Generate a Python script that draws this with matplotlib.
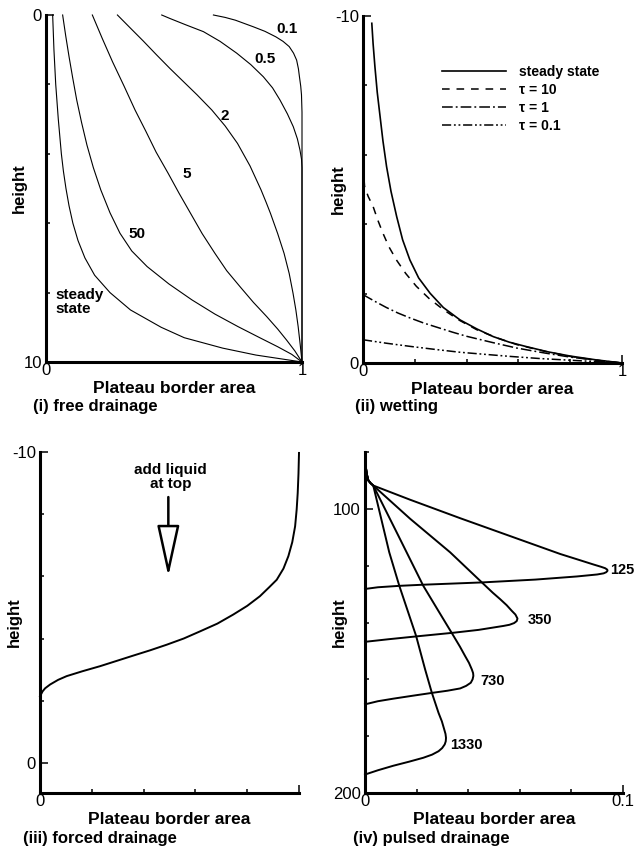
import matplotlib
matplotlib.use('Agg')
import matplotlib.pyplot as plt

plt.rcParams['font.family'] = ['Liberation Sans', 'DejaVu Sans']

# (i) free drainage: Plateau border area vs height, labelled by time
fd_steady_x = [0.026, 0.031, 0.038, 0.048, 0.060, 0.068, 0.078, 0.090, 0.105, 0.125, 0.152, 0.19,
               0.25, 0.33, 0.45, 0.54, 0.69, 0.82, 1.0]
fd_steady_h = [0.0, 1.0, 2.0, 3.0, 4.0, 4.5, 5.0, 5.5, 6.0, 6.5, 7.0, 7.5,
               8.0, 8.5, 9.0, 9.3, 9.6, 9.8, 10.0]
fd_50_x = [0.065, 0.077, 0.09, 0.104, 0.12, 0.139, 0.16, 0.185, 0.214, 0.25, 0.289, 0.335, 0.395,
           0.48, 0.57, 0.66, 0.75, 0.835, 0.905, 0.96, 1.0]
fd_50_h = [0.0, 0.6, 1.2, 1.8, 2.45, 3.1, 3.75, 4.4, 5.04, 5.7, 6.29, 6.8, 7.25,
           7.75, 8.21, 8.62, 8.98, 9.3, 9.56, 9.78, 10.0]
fd_5_x = [0.181, 0.22, 0.26, 0.305, 0.348, 0.39, 0.43, 0.477, 0.52, 0.565, 0.61, 0.66, 0.706,
          0.758, 0.81, 0.862, 0.905, 0.94, 0.972, 1.0]
fd_5_h = [0.0, 0.68, 1.35, 2.05, 2.74, 3.35, 3.95, 4.56, 5.14, 5.72, 6.3, 6.87, 7.37,
          7.83, 8.28, 8.69, 9.05, 9.37, 9.68, 10.0]
fd_2_x = [0.279, 0.33, 0.38, 0.432, 0.484, 0.53, 0.59, 0.648, 0.70, 0.748, 0.797, 0.84, 0.86,
          0.877, 0.905, 0.93, 0.95, 0.965, 0.976, 0.985, 0.993, 1.0]
fd_2_h = [0.0, 0.38, 0.75, 1.15, 1.54, 1.87, 2.3, 2.74, 3.2, 3.7, 4.35, 5.04, 5.4,
          5.72, 6.3, 6.87, 7.45, 8.02, 8.5, 8.98, 9.5, 10.0]
fd_05_x = [0.452, 0.484, 0.545, 0.615, 0.68, 0.745, 0.80, 0.849, 0.885, 0.914, 0.943, 0.966, 0.982,
           0.992, 0.998, 1.0, 1.0]
fd_05_h = [0.0, 0.1, 0.28, 0.48, 0.76, 1.1, 1.43, 1.78, 2.1, 2.45, 2.85, 3.22, 3.57,
           3.89, 4.15, 4.4, 10.0]
fd_01_x = [0.654, 0.70, 0.74, 0.81, 0.855, 0.898, 0.926, 0.95, 0.967, 0.979, 0.986, 0.99, 0.995,
           0.998, 1.0, 1.0]
fd_01_h = [0.0, 0.07, 0.15, 0.34, 0.47, 0.63, 0.76, 0.91, 1.1, 1.3, 1.55, 1.78, 2.05,
           2.3, 2.8, 10.0]
fd_labels = ['0.1', '0.5', '2', '5', '50']
fd_label_x = [0.943, 0.854, 0.699, 0.548, 0.357]
fd_label_h = [0.41, 1.28, 2.91, 4.58, 6.31]

# (ii) wetting
wt_steady_x = [0.034, 0.039, 0.046, 0.055, 0.066, 0.077, 0.091, 0.108, 0.13, 0.153, 0.181, 0.215,
               0.259, 0.31, 0.375, 0.44, 0.503, 0.565, 0.632, 0.715, 0.8, 0.9, 1.0]
wt_steady_h = [-9.79, -9.2, -8.54, -7.8, -7.1, -6.4, -5.66, -4.95, -4.22, -3.55, -2.97, -2.45,
               -2.01, -1.6, -1.24, -0.98, -0.76, -0.6, -0.47, -0.32, -0.2, -0.09, 0.0]
wt_10_x = [0.0, 0.003, 0.006, 0.02, 0.039, 0.057, 0.077, 0.1, 0.129, 0.165, 0.206, 0.255, 0.31,
           0.37, 0.439, 0.515, 0.594, 0.7, 0.8, 0.9, 1.0]
wt_10_h = [-5.7, -5.4, -5.09, -4.8, -4.51, -4.12, -3.74, -3.35, -2.97, -2.58, -2.21, -1.86, -1.54,
           -1.24, -0.96, -0.73, -0.53, -0.34, -0.19, -0.08, 0.0]
wt_1_x = [0.0, 0.045, 0.09, 0.135, 0.181, 0.235, 0.29, 0.345, 0.4, 0.5, 0.594, 0.7, 0.8, 0.9, 1.0]
wt_1_h = [-1.97, -1.78, -1.6, -1.44, -1.3, -1.15, -1.02, -0.89, -0.77, -0.59, -0.43, -0.29, -0.17,
          -0.08, 0.0]
wt_01_x = [0.0, 0.09, 0.181, 0.28, 0.374, 0.47, 0.568, 0.68, 0.8, 0.9, 1.0]
wt_01_h = [-0.67, -0.57, -0.48, -0.39, -0.31, -0.25, -0.19, -0.13, -0.08, -0.04, 0.0]

# (iii) forced drainage
fr_x = [0.0, 0.01, 0.02, 0.039, 0.07, 0.103, 0.165, 0.232, 0.296, 0.36, 0.425, 0.489, 0.555, 0.618,
        0.685, 0.746, 0.8, 0.849, 0.885, 0.914, 0.94, 0.959, 0.974, 0.985, 0.991, 0.995, 0.998, 1.0]
fr_h = [-2.14, -2.3, -2.4, -2.52, -2.67, -2.79, -2.95, -3.11, -3.28, -3.45, -3.62, -3.8, -4.0, -4.23,
        -4.48, -4.77, -5.05, -5.36, -5.65, -5.89, -6.25, -6.65, -7.1, -7.61, -8.15, -8.68, -9.3, -9.97]

# (iv) pulsed drainage, one profile per time
pd_125_x = [0.0, 0.0002, 0.0004, 0.0008, 0.0013, 0.0022, 0.0032, 0.0175, 0.0369, 0.0563, 0.0757,
            0.082, 0.0886, 0.0915, 0.0931, 0.0939, 0.094, 0.0935, 0.0925, 0.09, 0.0821, 0.066,
            0.0453, 0.0226, 0.0133, 0.005, 0.0]
pd_125_h = [80.0, 83.0, 85.9, 88.2, 90.0, 91.0, 91.8, 96.8, 103.3, 109.6, 115.9,
            117.7, 119.6, 120.4, 120.9, 121.4, 121.8, 122.3, 122.7, 123.1, 123.8, 124.9,
            125.9, 126.7, 127.1, 127.6, 128.2]
pd_350_x = [0.0, 0.0002, 0.0004, 0.0008, 0.0013, 0.0022, 0.0032, 0.0175, 0.033, 0.0453, 0.0495,
            0.0524, 0.0549, 0.0569, 0.0583, 0.0591, 0.0588, 0.0578, 0.056, 0.0537, 0.044, 0.0343,
            0.0198, 0.009, 0.0]
pd_350_h = [80.0, 83.0, 85.9, 88.2, 90.0, 91.0, 91.8, 103.5, 115.3, 125.9, 129.5,
            131.8, 133.9, 135.9, 137.2, 138.6, 139.5, 140.2, 140.8, 141.2, 142.6, 143.6,
            144.9, 145.9, 146.8]
pd_730_x = [0.0, 0.0002, 0.0004, 0.0008, 0.0013, 0.0022, 0.0032, 0.0129, 0.0226, 0.0285, 0.0343,
            0.0368, 0.0388, 0.0403, 0.0414, 0.0419, 0.042, 0.0417, 0.041, 0.0392, 0.0369, 0.032,
            0.0265, 0.019, 0.011, 0.005, 0.0]
pd_730_h = [80.0, 83.0, 85.9, 88.2, 90.0, 91.0, 91.8, 109.4, 127.1, 136.0, 144.7,
            148.5, 151.8, 154.2, 156.5, 157.8, 158.8, 160.0, 161.2, 162.3, 163.2, 164.0,
            164.7, 165.7, 166.8, 167.7, 168.8]
pd_1330_x = [0.0, 0.0002, 0.0004, 0.0008, 0.0013, 0.0022, 0.0032, 0.0094, 0.0133, 0.0198, 0.0233,
             0.0259, 0.0285, 0.0298, 0.0307, 0.0312, 0.0314, 0.0313, 0.0309, 0.0299, 0.0285,
             0.026, 0.0226, 0.017, 0.011, 0.005, 0.0]
pd_1330_h = [80.0, 83.0, 85.9, 88.2, 90.0, 91.0, 91.8, 115.3, 127.1, 144.7, 156.5,
             164.7, 171.8, 174.8, 177.6, 179.2, 180.6, 181.8, 182.9, 184.2, 185.3,
             186.5, 187.6, 189.0, 190.4, 192.0, 193.5]
pd_labels = ['125', '350', '730', '1330']
pd_label_x = [0.095, 0.0629, 0.0446, 0.0329]
pd_label_h = [121.7, 139.2, 160.7, 183.1]

W, H = 634, 852
fig = plt.figure(figsize=(W / 100, H / 100), dpi=100)


def panel(left, top, right, bottom):
    return fig.add_axes([left / W, 1 - bottom / H, (right - left) / W, (bottom - top) / H])


def setup(ax, xlim, ylim, xmaj, xlab, xmin, ymaj, ylab, ymin, ylabel_x):
    ax.set_xlim(*xlim)
    ax.set_ylim(*ylim)
    for s in ['top', 'right']:
        ax.spines[s].set_visible(False)
    for s in ['left', 'bottom']:
        ax.spines[s].set_linewidth(2.2)
    ax.set_xticks(xmaj, xlab)
    ax.set_xticks(xmin, minor=True)
    ax.set_yticks(ymaj, ylab)
    ax.set_yticks(ymin, minor=True)
    ax.tick_params(which='both', direction='in', width=1.1, labelsize=12)
    ax.tick_params(which='major', length=5.5)
    ax.tick_params(which='minor', length=3)
    ax.tick_params(axis='x', pad=1)
    ax.tick_params(axis='y', pad=3)
    ax.set_xlabel('Plateau border area', fontsize=12.5, fontweight='bold', labelpad=2)
    ax.set_ylabel('height', fontsize=12, fontweight='bold')
    ax.yaxis.set_label_coords(ylabel_x, 0.5)


# (i) free drainage
ax1 = panel(46, 15, 302, 362)
setup(ax1, (0, 1), (10, 0), [0, 1], ['0', '1'], [], [0, 10], ['0', '10'], [2, 4, 6, 8], -0.075)
ax1.tick_params(axis='x', which='major', length=0)
for xs, hs in [(fd_steady_x, fd_steady_h), (fd_50_x, fd_50_h), (fd_5_x, fd_5_h),
               (fd_2_x, fd_2_h), (fd_05_x, fd_05_h), (fd_01_x, fd_01_h)]:
    ax1.plot(xs, hs, color='k', lw=0.8, clip_on=False)
for t, x, h in zip(fd_labels, fd_label_x, fd_label_h):
    ax1.text(x, h, t, fontsize=11, fontweight='bold', ha='center', va='center')
ax1.text(0.035, 8.27, 'steady\nstate', fontsize=11, fontweight='bold', ha='left', va='center',
         linespacing=1.0)

# (ii) wetting
ax2 = panel(363, 16, 622, 363)
setup(ax2, (0, 1), (0, -10), [0, 1], ['0', '1'], [0.2, 0.4, 0.6, 0.8],
      [-10, 0], ['-10', '0'], [-8, -6, -4, -2], -0.066)
ax2.plot(wt_steady_x, wt_steady_h, color='k', lw=1.2, label='steady state', clip_on=False)
ax2.plot(wt_10_x, wt_10_h, color='k', lw=1.1, dashes=(5, 4.5), label='τ = 10', clip_on=False)
ax2.plot(wt_1_x, wt_1_h, color='k', lw=1.1, dashes=(7, 2, 1.2, 2), label='τ = 1', clip_on=False)
ax2.plot(wt_01_x, wt_01_h, color='k', lw=1.1, dashes=(6, 1.8, 1.2, 1.8, 1.2, 1.8),
         label='τ = 0.1', clip_on=False)
ax2.legend(loc='upper left', bbox_to_anchor=(0.304, 0.858), frameon=False, borderpad=0,
           borderaxespad=0, handlelength=4.6, handletextpad=0.95, labelspacing=0.27,
           prop={'size': 10, 'weight': 'bold'})

# (iii) forced drainage
ax3 = panel(40, 452, 299, 793)
setup(ax3, (0, 1), (0.97, -10), [0, 1], ['0', ''], [0.2, 0.4, 0.6, 0.8],
      [-10, 0], ['-10', '0'], [-8, -6, -4, -2], -0.071)
ax3.plot(fr_x, fr_h, color='k', lw=1.4, clip_on=False)
ax3.text(0.505, -9.2, 'add liquid\nat top', fontsize=11, fontweight='bold', ha='center',
         va='center', linespacing=1.0)
ax3.annotate('', xy=(0.4955, -6.0), xytext=(0.4955, -8.55),
             arrowprops=dict(arrowstyle='-|>,head_length=32,head_width=7', mutation_scale=1,
                             lw=1.8, facecolor='white', edgecolor='k', shrinkA=0, shrinkB=0))

# (iv) pulsed drainage
ax4 = panel(365, 452, 623, 793)
setup(ax4, (0, 0.1), (200, 80), [0, 0.1], ['0', '0.1'], [0.02, 0.04, 0.06, 0.08],
      [100, 200], ['100', '200'], [80, 120, 140, 160, 180], -0.069)
for xs, hs in [(pd_125_x, pd_125_h), (pd_350_x, pd_350_h), (pd_730_x, pd_730_h),
               (pd_1330_x, pd_1330_h)]:
    ax4.plot(xs, hs, color='k', lw=1.4, clip_on=False)
for t, x, h in zip(pd_labels, pd_label_x, pd_label_h):
    ax4.text(x, h, t, fontsize=10.5, fontweight='bold', ha='left', va='center', clip_on=False)

# panel captions
for x, y, t in [(33, 406.7, '(i) free drainage'), (355, 406.7, '(ii) wetting'),
                (23, 838.3, '(iii) forced drainage'), (353, 838.3, '(iv) pulsed drainage')]:
    fig.text(x / W, 1 - y / H, t, fontsize=12, fontweight='bold', ha='left', va='center')

fig.savefig('out.png', dpi=100)
